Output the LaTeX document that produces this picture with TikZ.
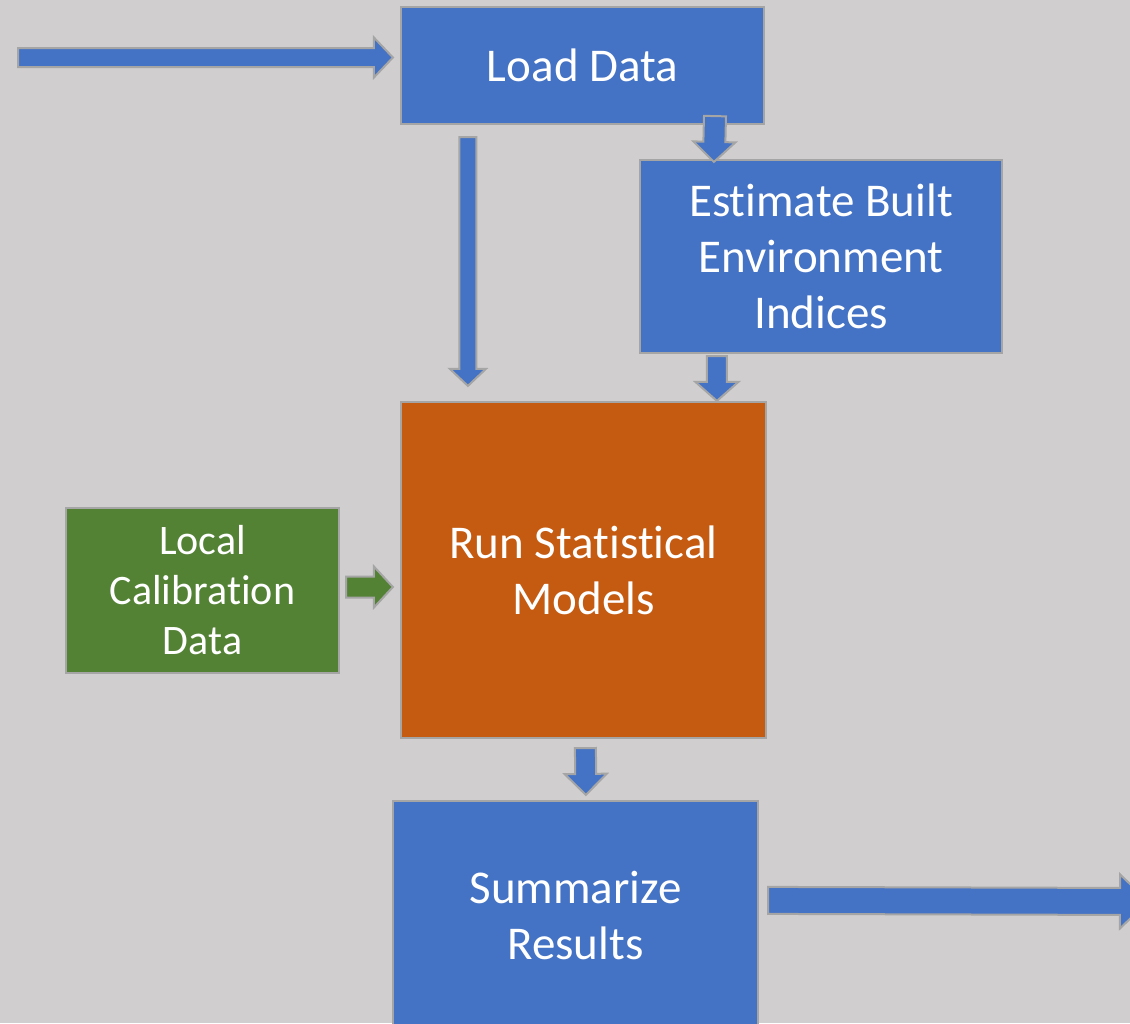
\documentclass[tikz,border=0pt]{standalone}
\usepackage{fontspec}
\setmainfont{Carlito}[Ligatures={NoCommon,NoContextual},RawFeature={-liga;-clig;-calt}]
\usetikzlibrary{calc}
\definecolor{bgc}{HTML}{D0CECE}
\definecolor{blu}{HTML}{4472C4}
\definecolor{org}{HTML}{C55A11}
\definecolor{grn}{HTML}{548235}
\definecolor{edg}{HTML}{A5A5A5}
\newcommand\nl{\kern0pt}
\tikzset{
  boxb/.style={draw=edg, line width=2.2pt, text=white, align=center, inner sep=0pt,
    font=\fontsize{47}{56}\selectfont},
  arrowshape/.style={draw=edg, line width=2pt, line join=miter},
}
% #1 start, #2 tip, #3 shaft half width, #4 head half width, #5 head length, #6 colour
\newcommand\blockarr[6]{%
  \coordinate (hh) at ($(#2)!#5pt!(#1)$);
  \draw[arrowshape, fill=#6]
    ($(#1)!#3pt!90:(#2)$) -- ($(hh)!#3pt!-90:(#1)$) -- ($(hh)!#4pt!-90:(#1)$) -- (#2)
    -- ($(hh)!#4pt!90:(#1)$) -- ($(hh)!#3pt!90:(#1)$) -- ($(#1)!#3pt!-90:(#2)$) -- cycle;
}
\begin{document}
\begin{tikzpicture}[x=1pt,y=-1pt]
\fill[bgc] (0,0) rectangle (1130,1023);
\useasboundingbox (0,0) rectangle (1130,1023);

\node[boxb, fill=blu, minimum width=363pt, minimum height=117pt] (load) at (582.5,65.5) {Load Data};
\node[boxb, fill=blu, minimum width=362pt, minimum height=193pt] (est) at (821,256.5) {Est\nl imate Built\\Environment\\Indices};
\node[boxb, fill=org, minimum width=365pt, minimum height=336pt] (run) at (583.5,570) {Run Stat\nl ist\nl ical\\Models};
\node[boxb, fill=grn, minimum width=273pt, minimum height=165pt, font=\fontsize{42}{50}\selectfont] (local) at (202.5,590.5) {Local\\Calibrat\nl ion\\Data};
\node[boxb, fill=blu, minimum width=365pt, minimum height=228pt] (sum) at (575.5,915) {Summarize\\Results};

% connectors
\coordinate (inS) at (18,57.5);
\coordinate (inT) at ($(load.west)+(-7,-8)$);
\blockarr{inS}{inT}{9.5}{20}{19}{blu}

\coordinate (a1) at ($(load.south west)+(68,12)$);
\coordinate (a2) at ($(run.north west)+(68,-15)$);
\blockarr{a1}{a2}{8.5}{18}{17}{blu}

\coordinate (b1) at ($(load.south)+(132.5,-9)$);
\coordinate (b2) at ($(est.north west)+(75,3)$);
\blockarr{b1}{b2}{11}{21}{20}{blu}

\coordinate (c1) at ($(est.south west)+(78,2)$);
\coordinate (c2) at ($(run.north west)+(317,0)$);
\blockarr{c1}{c2}{10}{21.5}{19}{blu}

\coordinate (d1) at ($(local.east)+(6,-3.5)$);
\coordinate (d2) at ($(run.west)+(-7,17)$);
\blockarr{d1}{d2}{10.5}{20.5}{19}{grn}

\coordinate (e1) at ($(run.south west)+(185.5,9)$);
\coordinate (e2) at ($(sum.north west)+(194,-5)$);
\blockarr{e1}{e2}{10.5}{21}{21}{blu}

\coordinate (f1) at ($(sum.north east)+(9,100.5)$);
\coordinate (fT) at (1148,901.5);
\blockarr{f1}{fT}{13.5}{27}{28}{blu}
\end{tikzpicture}
\end{document}
